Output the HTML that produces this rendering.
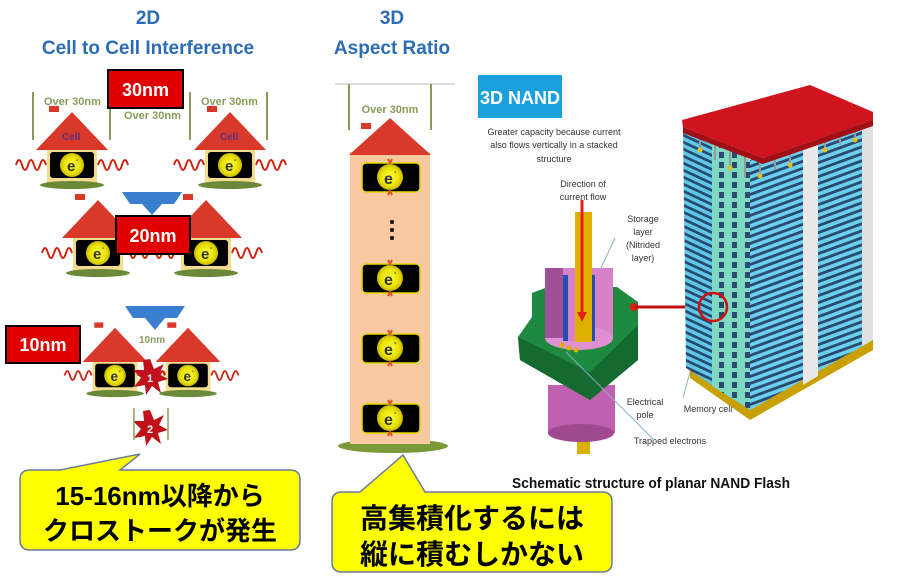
<!DOCTYPE html>
<html><head><meta charset="utf-8"><style>
html,body{margin:0;padding:0;background:#fff}
svg{display:block}
.t{font-family:"Liberation Sans",sans-serif}
.jp{font-family:"Liberation Sans","Noto Sans CJK JP",sans-serif;font-weight:bold}
</style></head><body>
<svg width="900" height="585" viewBox="0 0 900 585" xmlns="http://www.w3.org/2000/svg">
<defs>
<radialGradient id="eg"><stop offset="0" stop-color="#ffff40"/><stop offset="0.7" stop-color="#e8e000"/><stop offset="1" stop-color="#c8b800"/></radialGradient>
<pattern id="stL" width="10" height="7" patternUnits="userSpaceOnUse" patternTransform="skewY(25)"><rect width="10" height="7" fill="#5ec8e8"/><rect y="4" width="10" height="3" fill="#2a4a70"/></pattern>
<pattern id="stR" width="10" height="7" patternUnits="userSpaceOnUse" patternTransform="skewY(-20)"><rect width="10" height="7" fill="#6ad0ee"/><rect y="4" width="10" height="3" fill="#2a4a70"/></pattern>
<pattern id="grn" width="13" height="10" patternUnits="userSpaceOnUse"><rect width="13" height="10" fill="#7fd8c0"/><rect x="4" y="2" width="5" height="6" fill="#2a4a70"/></pattern>
<g id="wave"><path d="M0,0 q3,-10 6,0 t6,0 t6,0 t6,0 t6,0" fill="none" stroke="#d02010" stroke-width="2"/></g>
<g id="house">
 <polygon points="-36,0 0,-38 36,0" fill="#d8392b"/>
 <rect x="-23" y="-44" width="10" height="6" fill="#d8392b"/>
 <rect x="-25" y="0" width="50" height="34" fill="#f3dd8c"/>
 <rect x="-22" y="2" width="44" height="26" rx="3" fill="#000"/>
 <circle cx="0" cy="15" r="12" fill="url(#eg)"/>
 <text x="-5" y="21" class="t" font-weight="bold" font-size="15" fill="#333">e</text>
 <text x="4" y="12" class="t" font-weight="bold" font-size="7" fill="#333">-</text>
 <ellipse cx="0" cy="35" rx="32" ry="4" fill="#6a8a3a"/>
 <use href="#wave" x="-56" y="15"/><use href="#wave" x="26" y="15"/>
</g>
<g id="win">
 <rect x="-28" y="0" width="58" height="29" rx="4" fill="#000" stroke="#e6d800" stroke-width="1.5"/>
 <circle cx="0" cy="14" r="13" fill="url(#eg)"/>
 <text x="-6" y="21" class="t" font-weight="bold" font-size="16" fill="#333">e</text>
 <text x="4" y="11" class="t" font-weight="bold" font-size="7" fill="#333">-</text>
 <path d="M-2,-4 l2,4 l2,-4 M-2,32 l2,-4 l2,4" stroke="#e05020" stroke-width="2" fill="none"/>
</g>
<g id="star"><polygon points="0,-18 4,-8 14,-13 9,-3 18,2 8,5 11,16 2,9 -4,18 -5,8 -16,10 -9,1 -17,-7 -6,-7 -7,-17" fill="#c0101a"/></g>
</defs>

<text x="148" y="24" text-anchor="middle" class="t" font-weight="bold" font-size="19" fill="#2b6cb5">2D</text>
<text x="148" y="54" text-anchor="middle" class="t" font-weight="bold" font-size="19" fill="#2b6cb5">Cell to Cell Interference</text>
<text x="392" y="24" text-anchor="middle" class="t" font-weight="bold" font-size="19" fill="#2b6cb5">3D</text>
<text x="392" y="54" text-anchor="middle" class="t" font-weight="bold" font-size="19" fill="#2b6cb5">Aspect Ratio</text>

<g stroke="#8a9a5a" stroke-width="2"><line x1="33" y1="92" x2="33" y2="140"/><line x1="110" y1="92" x2="110" y2="140"/><line x1="190" y1="92" x2="190" y2="140"/><line x1="267" y1="92" x2="267" y2="140"/></g>
<g class="t" font-size="11" font-weight="bold" fill="#8a9a5a"><text x="44" y="105">Over 30nm</text><text x="124" y="119">Over 30nm</text><text x="201" y="105">Over 30nm</text></g>
<use href="#house" x="72" y="150"/><use href="#house" x="230" y="150"/>
<g class="t" font-size="10" font-weight="bold" fill="#5a3080"><text x="62" y="140">Cell</text><text x="220" y="140">Cell</text></g>
<rect x="108" y="70" width="75" height="38" fill="#e00000" stroke="#000" stroke-width="2"/>
<text x="145.5" y="96" text-anchor="middle" class="t" font-weight="bold" font-size="18" fill="#fff">30nm</text>
<polygon points="122,192 182,192 174,204 162,204 152,215 142,204 130,204" fill="#3a7ed0"/>

<use href="#house" x="98" y="238"/><use href="#house" x="206" y="238"/>
<rect x="116" y="216" width="74" height="38" fill="#e00000" stroke="#000" stroke-width="2"/>
<text x="153" y="242" text-anchor="middle" class="t" font-weight="bold" font-size="18" fill="#fff">20nm</text>
<polygon points="125,306 185,306 177,318 165,318 155,330 145,318 133,318" fill="#3a7ed0"/>

<g transform="translate(115,362) scale(0.9)"><use href="#house"/></g>
<g transform="translate(188,362) scale(0.9)"><use href="#house"/></g>
<text x="139" y="343" class="t" font-size="10" font-weight="bold" fill="#8a9a5a">10nm</text>
<use href="#star" x="150" y="377"/><text x="150" y="382" text-anchor="middle" class="t" font-size="11" font-weight="bold" fill="#fff">1</text>
<use href="#star" x="150" y="428"/><text x="150" y="433" text-anchor="middle" class="t" font-size="11" font-weight="bold" fill="#fff">2</text>
<g stroke="#8a9a5a" stroke-width="1.5"><line x1="134" y1="408" x2="134" y2="440"/><line x1="168" y1="408" x2="168" y2="440"/></g>
<rect x="6" y="326" width="74" height="37" fill="#e00000" stroke="#000" stroke-width="2"/>
<text x="43" y="351" text-anchor="middle" class="t" font-weight="bold" font-size="18" fill="#fff">10nm</text>

<line x1="335" y1="84" x2="455" y2="84" stroke="#ddd" stroke-width="2"/>
<g stroke="#8a9a5a" stroke-width="2"><line x1="349" y1="84" x2="349" y2="130"/><line x1="431" y1="84" x2="431" y2="130"/></g>
<text x="390" y="113" text-anchor="middle" class="t" font-size="11" font-weight="bold" fill="#8a9a5a">Over 30nm</text>
<ellipse cx="393" cy="446" rx="55" ry="7" fill="#7a9a3a"/>
<rect x="350" y="152" width="80" height="292" fill="#f8c9a0"/>
<polygon points="349,155 390,118 431,155" fill="#d8392b"/>
<rect x="361" y="123" width="10" height="6" fill="#d8392b"/>
<use href="#win" x="390" y="163"/><use href="#win" x="390" y="264"/><use href="#win" x="390" y="334"/><use href="#win" x="390" y="404"/>
<g fill="#000"><circle cx="392" cy="222" r="2"/><circle cx="392" cy="230" r="2"/><circle cx="392" cy="238" r="2"/></g>

<rect x="478" y="75" width="84" height="43" fill="#1aa0dc"/>
<text x="520" y="104" text-anchor="middle" class="t" font-weight="bold" font-size="18" fill="#fff">3D NAND</text>
<g class="t" font-size="9" fill="#333" text-anchor="middle"><text x="554" y="135">Greater capacity because current</text><text x="554" y="148">also flows vertically in a stacked</text><text x="554" y="162">structure</text>
<text x="583" y="187">Direction of</text><text x="583" y="200">current flow</text>
<text x="643" y="222">Storage</text><text x="643" y="235">layer</text><text x="643" y="248">(Nitrided</text><text x="643" y="261">layer)</text>
<text x="645" y="405">Electrical</text><text x="645" y="418">pole</text>
<text x="708" y="412">Memory cell</text><text x="670" y="444">Trapped electrons</text></g>

<rect x="577" y="428" width="13" height="26" fill="#d8b000"/>
<rect x="548" y="385" width="67" height="48" fill="#c060b0"/>
<ellipse cx="581" cy="433" rx="33" ry="9" fill="#a04890"/>
<polygon points="532,293 545,288 617,287 638,302 638,360 590,400 520,360 518,337 532,317" fill="#1e8a40"/>
<polygon points="518,337 590,372 638,325 638,360 590,400 520,360" fill="#156a30"/>
<rect x="545" y="268" width="68" height="70" fill="#d880c8"/>
<ellipse cx="579" cy="338" rx="34" ry="12" fill="#e090d0"/>
<rect x="545" y="268" width="18" height="70" fill="#a05098"/>
<rect x="563" y="275" width="32" height="66" fill="#2050b0"/>
<rect x="568" y="275" width="22" height="66" fill="#d880c8"/>
<rect x="575" y="212" width="17" height="130" fill="#e0b000"/>
<line x1="582" y1="200" x2="582" y2="318" stroke="#e02010" stroke-width="3"/>
<polygon points="577,312 587,312 582,322" fill="#e02010"/>
<g fill="#e0b000"><circle cx="562" cy="345" r="2.5"/><circle cx="569" cy="348" r="2.5"/><circle cx="576" cy="350" r="2.5"/></g>
<g stroke="#8ab0c8" stroke-width="1"><line x1="615" y1="238" x2="600" y2="270"/><line x1="566" y1="352" x2="654" y2="440"/><line x1="690" y1="372" x2="683" y2="398"/></g>
<circle cx="634" cy="307" r="4" fill="#e02010"/>
<line x1="634" y1="307" x2="700" y2="307" stroke="#c01010" stroke-width="3"/>

<polygon points="690,368 750,410 873,340 873,350 750,420 690,378" fill="#c8a000"/>
<polygon points="683,128 750,160 750,410 686,368" fill="url(#stL)"/>
<polygon points="712,140 750,160 750,410 712,386" fill="url(#grn)"/>
<polygon points="750,160 873,118 873,340 750,410" fill="url(#stR)"/>
<polygon points="803,142 818,137 818,376 803,385" fill="#e8e8e8"/>
<polygon points="862,122 873,118 873,340 862,346" fill="#e0e0e0"/>
<g stroke="#999" stroke-width="2">
<line x1="700" y1="128" x2="700" y2="150"/><line x1="715" y1="126" x2="715" y2="160"/><line x1="730" y1="130" x2="730" y2="168"/><line x1="745" y1="140" x2="745" y2="178"/><line x1="760" y1="140" x2="760" y2="176"/><line x1="775" y1="135" x2="775" y2="170"/><line x1="790" y1="130" x2="790" y2="165"/><line x1="825" y1="118" x2="825" y2="150"/><line x1="840" y1="115" x2="840" y2="145"/><line x1="855" y1="112" x2="855" y2="140"/></g>
<g fill="#e0c020"><circle cx="700" cy="150" r="2.5"/><circle cx="730" cy="168" r="2.5"/><circle cx="760" cy="176" r="2.5"/><circle cx="790" cy="165" r="2.5"/><circle cx="825" cy="150" r="2.5"/><circle cx="855" cy="140" r="2.5"/></g>
<polygon points="682,120 810,85 873,112 873,120 763,158 683,127" fill="#d0141e"/>
<polygon points="683,127 763,158 873,120 873,126 763,164 683,133" fill="#a00e16"/>
<circle cx="713" cy="307" r="14" fill="none" stroke="#d01010" stroke-width="2.5"/>

<text x="512" y="488" class="t" font-weight="bold" font-size="15" fill="#111" textLength="278" lengthAdjust="spacingAndGlyphs">Schematic structure of planar NAND Flash</text>

<path d="M30,470 L60,470 L140,454 L120,470 L290,470 Q300,470 300,480 L300,540 Q300,550 290,550 L30,550 Q20,550 20,540 L20,480 Q20,470 30,470 Z" fill="#ffff00" stroke="#6a7a9a" stroke-width="1.5"/>
<text x="160" y="505" text-anchor="middle" class="jp" font-size="26" fill="#000">15-16nm以降から</text>
<text x="160" y="540" text-anchor="middle" class="jp" font-size="26" fill="#000">クロストークが発生</text>
<path d="M342,492 L360,492 L403,455 L425,492 L602,492 Q612,492 612,502 L612,562 Q612,572 602,572 L342,572 Q332,572 332,562 L332,502 Q332,492 342,492 Z" fill="#ffff00" stroke="#6a7a9a" stroke-width="1.5"/>
<text x="472" y="528" text-anchor="middle" class="jp" font-size="28" fill="#000">高集積化するには</text>
<text x="472" y="564" text-anchor="middle" class="jp" font-size="28" fill="#000">縦に積むしかない</text>
</svg>
</body></html>
